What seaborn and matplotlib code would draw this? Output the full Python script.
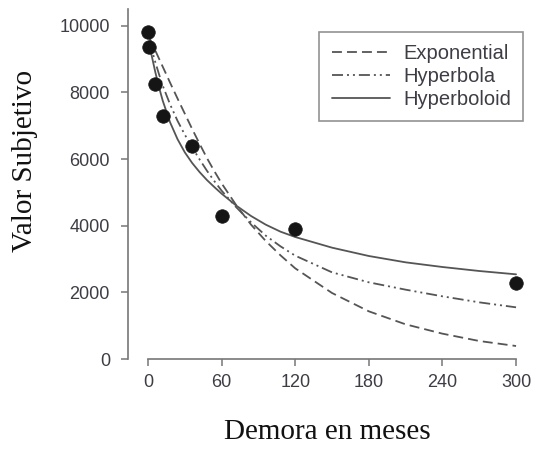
import matplotlib
matplotlib.use("Agg")
import matplotlib.pyplot as plt
import pandas as pd
import seaborn as sns

# Observed subjective values by delay (months)
delay_obs = [0.25, 1, 6, 12, 36, 60, 120, 300]
value_obs = [9800, 9360, 8250, 7280, 6400, 4280, 3900, 2270]

# Fitted discounting curves sampled along the delay axis
delay_fit = [1, 3, 6, 9, 12, 18, 24, 30, 36, 42, 48, 54, 60, 72, 84, 96,
             108, 120, 150, 180, 210, 240, 270, 300]
exponential = [9650, 9490, 9250, 9010, 8770, 8290, 7820, 7360, 6900, 6460,
               6030, 5640, 5270, 4610, 4030, 3540, 3110, 2720, 1980, 1430,
               1040, 760, 540, 390]
hyperbola = [9550, 9290, 8900, 8540, 8200, 7640, 7150, 6730, 6350, 5990,
             5650, 5340, 5050, 4550, 4100, 3700, 3380, 3100, 2600, 2300,
             2080, 1880, 1700, 1550]
hyperboloid = [9450, 9100, 8600, 8150, 7750, 7100, 6600, 6200, 5880, 5610,
               5370, 5160, 4960, 4600, 4290, 4030, 3820, 3660, 3340, 3090,
               2900, 2760, 2640, 2540]

model_names = ["Exponential", "Hyperbola", "Hyperboloid"]
x_ticks = [0, 60, 120, 180, 240, 300]
y_ticks = [0, 2000, 4000, 6000, 8000, 10000]

sns.set_style("ticks")
plt.rcParams["font.family"] = ["Liberation Sans", "DejaVu Sans"]

fig = plt.figure(figsize=(5.43, 4.51), dpi=100)
W, H = 543, 451
ax = fig.add_axes([128 / W, (H - 359) / H, 397 / W, 350 / H])

line_color = "#555555"
styles = {
    "Exponential": (0, (5.5, 2.8)),
    "Hyperbola": (0, (6.1, 2.2, 1.1, 2.2, 1.1, 2.2)),
    "Hyperboloid": "-",
}
series = {"Exponential": exponential, "Hyperbola": hyperbola, "Hyperboloid": hyperboloid}

for name in model_names:
    df = pd.DataFrame({"delay": delay_fit, "value": series[name]})
    sns.lineplot(data=df, x="delay", y="value", ax=ax, color=line_color,
                 linestyle=styles[name], linewidth=1.3, label=name,
                 estimator=None, sort=False)

obs = pd.DataFrame({"delay": delay_obs, "value": value_obs})
sns.scatterplot(data=obs, x="delay", y="value", ax=ax, color="#151515",
                s=95, edgecolor="#151515", linewidth=0.5, zorder=5,
                clip_on=False, legend=False)

ax.set_xlim(-16.3, 307.3)
ax.set_ylim(0, 10500)
ax.set_xticks(x_ticks)
ax.set_yticks(y_ticks)

for side in ["top", "right"]:
    ax.spines[side].set_visible(False)
for side in ["left", "bottom"]:
    ax.spines[side].set_color("#777777")
    ax.spines[side].set_linewidth(1.2)
ax.spines["bottom"].set_bounds(0, 300)
ax.spines["left"].set_bounds(0, 10500)

tick_color = "#3d3d45"
ax.tick_params(axis="both", direction="out", length=5, width=1.1,
               color="#777777", labelcolor=tick_color, labelsize=13,
               bottom=True, left=True)
ax.tick_params(axis="x", pad=6)
ax.tick_params(axis="y", pad=8)

ax.set_xlabel("")
ax.set_ylabel("")
fig.text(327 / W, 1 - 432 / H, "Demora en meses", family="Liberation Serif",
         fontsize=21, ha="center", va="center", color="#111111")
fig.text(25 / W, 1 - 161 / H, "Valor Subjetivo", family="Liberation Serif",
         fontsize=21, ha="center", va="center", rotation=90, color="#111111")

leg = ax.legend(loc="upper right", bbox_to_anchor=(523 / W, 1 - 32 / H),
                bbox_transform=fig.transFigure, borderaxespad=0,
                fontsize=14.5, frameon=True, fancybox=False,
                handlelength=2.9, handletextpad=0.65, labelspacing=0.2,
                borderpad=0.6)
leg.get_frame().set_edgecolor("#777777")
leg.get_frame().set_linewidth(1.2)
for t in leg.get_texts():
    t.set_color(tick_color)

fig.savefig("out.png", dpi=100)
